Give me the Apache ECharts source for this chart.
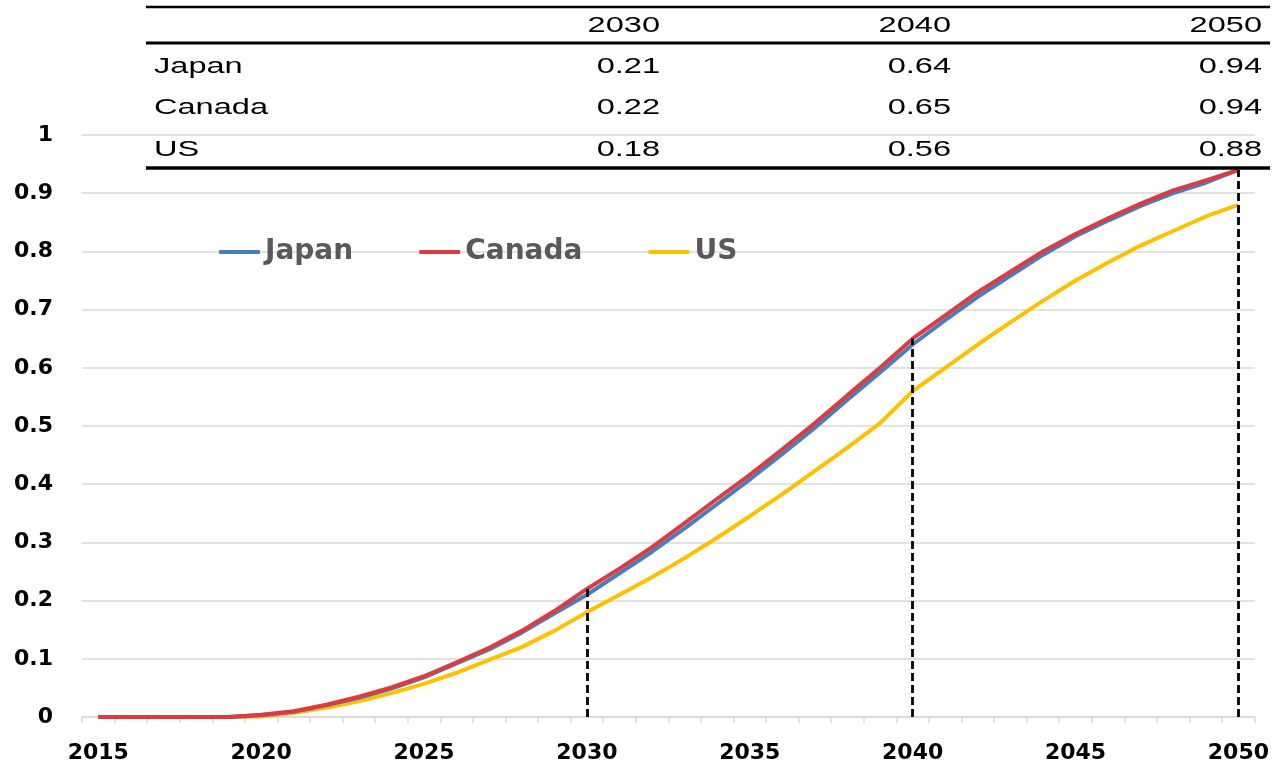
<!DOCTYPE html>
<html>
<head>
<meta charset="utf-8">
<title>Adoption share: Japan, Canada, US</title>
<script src="https://cdn.jsdelivr.net/npm/echarts@6/dist/echarts.min.js"></script>
<style>
  html, body { margin: 0; padding: 0; background: #fff; }
  #chart { width: 1272px; height: 764px; }
</style>
</head>
<body>
<div id="chart"></div>
<script>
// Years on the horizontal axis
const years = [];
for (let y = 2015; y <= 2050; y++) years.push(String(y));

// Share by year, 2015 .. 2050
const japan = [0, 0, 0, 0, 0, 0.003, 0.009, 0.02, 0.033, 0.049,
  0.068, 0.092, 0.116, 0.145, 0.178, 0.21, 0.247, 0.284, 0.324, 0.366,
  0.408, 0.452, 0.497, 0.545, 0.592, 0.64, 0.682, 0.722, 0.758, 0.794,
  0.826, 0.853, 0.878, 0.9, 0.918, 0.94];
const canada = [0, 0, 0, 0, 0, 0.004, 0.01, 0.021, 0.035, 0.051,
  0.07, 0.094, 0.119, 0.148, 0.182, 0.22, 0.255, 0.292, 0.333, 0.375,
  0.416, 0.46, 0.505, 0.553, 0.6, 0.65, 0.69, 0.73, 0.765, 0.8,
  0.83, 0.857, 0.882, 0.905, 0.922, 0.94];
const us = [0, 0, 0, 0, 0, 0.001, 0.007, 0.016, 0.027, 0.041,
  0.057, 0.076, 0.098, 0.12, 0.148, 0.18, 0.21, 0.24, 0.273, 0.308,
  0.345, 0.383, 0.423, 0.463, 0.505, 0.56, 0.6, 0.64, 0.678, 0.715,
  0.75, 0.781, 0.81, 0.835, 0.86, 0.88];

// Summary table: milestone years and the rows it lists
const tableYears = ['2030', '2040', '2050'];
const tableRows = [
  { name: 'Japan', values: japan },
  { name: 'Canada', values: canada },
  { name: 'US', values: us }
];

const colors = { japan: '#4a7ebb', canada: '#e0393e', us: '#ffc000' };

const chart = echarts.init(document.getElementById('chart'), null, { renderer: 'canvas' });

// Table layout
const tblLeft = 146, tblRight = 1270;
const colRight = [660, 951, 1262];
const rowY = [26, 67, 108, 150];
const stretch = 1.48;
const tableFont = '22px "Liberation Sans", Arial, sans-serif';

function cell(text, x, y, align) {
  return {
    type: 'text', x: x, y: y, scaleX: stretch, originX: 0, originY: 0, z: 100,
    style: { x: 0, y: 0, text: text, font: tableFont, fill: '#000',
      align: align, verticalAlign: 'middle' }
  };
}

const graphics = [
  { type: 'line', z: 100, shape: { x1: tblLeft, y1: 7, x2: tblRight, y2: 7 },
    style: { stroke: '#000', lineWidth: 2.5 } },
  { type: 'line', z: 100, shape: { x1: tblLeft, y1: 43, x2: tblRight, y2: 43 },
    style: { stroke: '#000', lineWidth: 3 } },
  { type: 'line', z: 100, shape: { x1: tblLeft, y1: 168, x2: tblRight, y2: 168 },
    style: { stroke: '#000', lineWidth: 3.5 } }
];
tableYears.forEach((yr, c) => graphics.push(cell(yr, colRight[c], rowY[0], 'right')));
tableRows.forEach((row, r) => {
  graphics.push(cell(row.name, 154, rowY[r + 1], 'left'));
  tableYears.forEach((yr, c) => {
    const v = row.values[years.indexOf(yr)];
    graphics.push(cell(v.toFixed(2), colRight[c], rowY[r + 1], 'right'));
  });
});

// Dashed drop lines at the milestone years, up to the highest curve
const dropLines = tableYears.map(yr => {
  const i = years.indexOf(yr);
  const top = Math.max(japan[i], canada[i], us[i]);
  return [{ coord: [yr, 0] }, { coord: [yr, top] }];
});

const boldFont = '"DejaVu Sans", Verdana, sans-serif';

chart.setOption({
  animation: false,
  backgroundColor: '#fff',
  grid: { left: 82, right: 17, top: 135, bottom: 47, containLabel: false },
  legend: {
    left: 219, top: 238, padding: 0,
    itemWidth: 41, itemHeight: 4, itemGap: 66,
    icon: 'roundRect',
    textStyle: { fontFamily: boldFont, fontWeight: 'bold', fontSize: 28, color: '#595959', padding: [0, 0, 0, 0] },
    data: ['Japan', 'Canada', 'US']
  },
  xAxis: {
    type: 'category',
    data: years,
    boundaryGap: true,
    axisLine: { lineStyle: { color: '#d9d9d9', width: 1.5 } },
    axisTick: { show: true, interval: 0, length: 6, lineStyle: { color: '#d9d9d9', width: 1.5 } },
    axisLabel: { interval: 4, margin: 25, fontFamily: boldFont, fontWeight: 'bold', fontSize: 22, color: '#000' },
    splitLine: { show: false }
  },
  yAxis: {
    type: 'value',
    min: 0, max: 1, interval: 0.1,
    axisLine: { show: false },
    axisTick: { show: false },
    axisLabel: { margin: 29, fontFamily: boldFont, fontWeight: 'bold', fontSize: 22, color: '#000' },
    splitLine: { lineStyle: { color: '#d9d9d9', width: 1.5 } }
  },
  series: [
    {
      name: 'Japan', type: 'line', data: japan, symbol: 'none', z: 3,
      lineStyle: { color: colors.japan, width: 4 }, itemStyle: { color: colors.japan }
    },
    {
      name: 'Canada', type: 'line', data: canada, symbol: 'none', z: 4,
      lineStyle: { color: colors.canada, width: 4 }, itemStyle: { color: colors.canada }
    },
    {
      name: 'US', type: 'line', data: us, symbol: 'none', z: 2,
      lineStyle: { color: colors.us, width: 4 }, itemStyle: { color: colors.us },
      markLine: {
        silent: true, symbol: ['none', 'none'], label: { show: false },
        lineStyle: { color: '#000', width: 2.8, type: [8, 4] },
        data: dropLines, z: 10
      }
    }
  ],
  graphic: graphics
});
</script>
</body>
</html>
